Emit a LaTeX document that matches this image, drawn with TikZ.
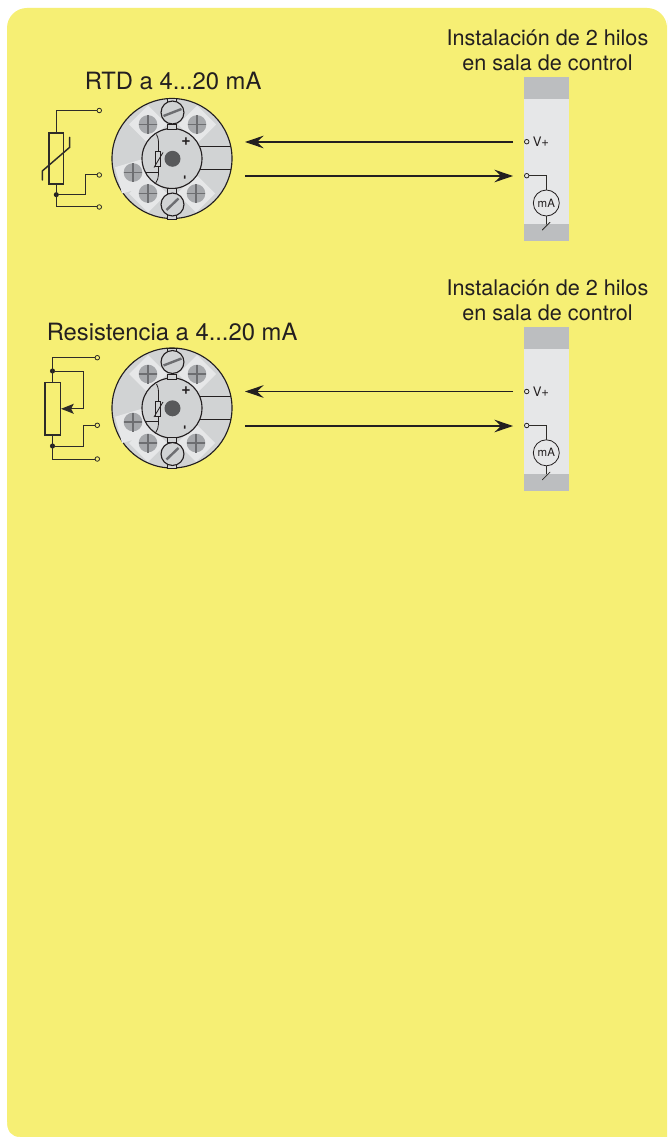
\documentclass[tikz,border=0pt]{standalone}
\usepackage{fontspec}
\setmainfont{TeX Gyre Heros}
\usetikzlibrary{arrows.meta,calc}
\definecolor{bgy}{HTML}{F6EF74}
\definecolor{ink}{HTML}{231F20}
\definecolor{wire}{HTML}{2E2C28}
\definecolor{body}{HTML}{D1D3D4}
\definecolor{pale}{HTML}{E6E7E8}
\definecolor{band}{HTML}{BCBEC0}
\definecolor{screwc}{HTML}{A7A9AC}
\definecolor{crossc}{HTML}{6D6E71}
\definecolor{hub}{HTML}{58595B}
\tikzset{
  x=0.75pt,y=-0.75pt,
  wireline/.style={draw=wire,line width=0.75pt,line cap=round,line join=miter},
  termin/.style={circle,draw=wire,fill=bgy,line width=0.6pt,inner sep=0pt,minimum size=3.4pt},
  termpanel/.style={termin,fill=pale},
  junction/.style={circle,fill=ink,inner sep=0pt,minimum size=3.8pt},
  titletext/.style={font=\fontsize{17.85pt}{20pt}\selectfont,text=ink,inner sep=0pt,anchor=base west},
  insttext/.style={font=\fontsize{16.2pt}{18.8pt}\selectfont,text=ink,inner sep=0pt,align=center},
  flow/.style={draw=ink,line width=0.85pt,-{Stealth[length=14pt,width=9.5pt,inset=5pt]}},
  tpad/.style={fill=pale,draw=none},
  tdiamond/.pic={
    \fill[tpad] (0,-19) -- (19,0) -- (0,19) -- (-19,0) -- cycle;
  },
  tscrew/.pic={
    \fill[screwc] (0,0) circle (7pt);
    \fill[crossc] (-9,-0.9) rectangle (9,0.9);
    \fill[crossc] (-1.2,-9.5) rectangle (1.2,9.5);
  },
  transmitter/.pic={
    \filldraw[fill=body,draw=ink,line width=0.85pt] (0,0) circle (45pt);
    \pic at (-24,-34) {tdiamond};
    \pic at (25,-34) {tdiamond};
    \pic at (-24,35) {tdiamond};
    \pic at (24,35) {tdiamond};
    \fill[tpad] (-57,8.8) -- (-30.3,0.8) -- (-23,27.5) -- (-50,35) -- cycle;
    \pic at (-24,-34) {tscrew};
    \pic at (25,-34) {tscrew};
    \pic at (-24,35) {tscrew};
    \pic at (24,35) {tscrew};
    \pic at (-39,14) {tscrew};
    \filldraw[fill=body,draw=ink,line width=0.85pt] (0,0) circle (22.5pt);
    \draw[draw=ink,line width=0.75pt] (28,-11.5) -- (59,-11.5) (28,11) -- (59,11);
    \fill[hub] (0.5,0.3) circle (6pt);
    \draw[draw=ink,line width=0.6pt] (-15.5,-24) .. controls (-13.5,-20) and (-13.5,-18) .. (-13.5,-14)
       -- (-13.5,16) .. controls (-13.5,19) and (-14.5,22) .. (-16.5,25);
    \draw[draw=ink,line width=0.6pt] (-27,13.5) -- (-13.5,13.5);
    \filldraw[fill=body,draw=ink,line width=0.6pt] (-17,-7) rectangle (-12,8);
    \draw[draw=ink,line width=0.6pt] (-18,9) -- (-9,-6);
    \node[inner sep=0pt,font=\fontsize{12pt}{12pt}\selectfont\bfseries,text=ink] at (14,-17) {+};
    \node[inner sep=0pt,rotate=90,font=\fontsize{9pt}{9pt}\selectfont\bfseries,text=ink] at (14,19.5) {-};
    \filldraw[fill=body,draw=ink,line width=0.6pt] (-4.5,-60) rectangle (4.5,-55);
    \filldraw[fill=body,draw=ink,line width=0.6pt] (-4.5,-34) rectangle (4.5,-29);
    \filldraw[fill=body,draw=ink,line width=0.6pt] (-4.5,29.5) rectangle (4.5,34.5);
    \filldraw[fill=body,draw=ink,line width=0.6pt] (-4.5,56) rectangle (4.5,60.5);
    \filldraw[fill=body,draw=ink,line width=0.85pt] (0.5,-46) circle (8.6pt);
    \draw[crossc,line width=1.8pt] (-8.5,-42.5) -- (9.5,-49.5);
    \filldraw[fill=body,draw=ink,line width=0.85pt] (0.5,46) circle (8.6pt);
    \draw[crossc,line width=1.8pt] (-5.5,51.5) -- (6.5,40);
  },
  panelunit/.pic={
    \fill[pale] (0,0) rectangle (45,164);
    \fill[band] (0,0) rectangle (45,22.5);
    \fill[band] (0,147.5) rectangle (45,164);
    \node[termpanel] (-t1) at (2.7,65) {};
    \node[termpanel] (-t2) at (2.7,99) {};
    \node[inner sep=0pt,anchor=west,font=\fontsize{9.8pt}{10pt}\selectfont,text=ink] (-vp) at (8.5,65.5) {V+};
    \node[circle,draw=ink,fill=pale,line width=0.6pt,inner sep=0pt,minimum size=19.5pt,font=\fontsize{8.6pt}{9pt}\selectfont,text=ink] (-ma) at (22.3,126.3) {mA};
    \coordinate (-gnd) at (22.3,147.5);
    \draw[wireline,line width=0.6pt] (-t2) -| (-ma);
    \draw[wireline,line width=0.6pt] (-ma) -- (-gnd);
    \draw[wireline,line width=0.6pt] (18.3,153.3) -- (26,145.6);
  }
}
\begin{document}
\begin{tikzpicture}
\useasboundingbox (0,0) rectangle (667,1137);
\fill[white] (0,0) rectangle (667,1137);
\fill[bgy,rounded corners=15pt] (7,1137) -- (7,8) -- (667,8) -- (667,40) [sharp corners] -- (667,1137) [rounded corners=0pt] -- cycle;
\fill[bgy] (667,1137) -- (667,30) -- (640,30) -- (640,1137) -- cycle;
\fill[white] (0,1122) -- (7,1122) .. controls (7,1131) and (11,1137) .. (20,1137) -- (0,1137) -- cycle;

% --- first row
\node[titletext] (t1) at (84.5,90) {RTD a 4...20 mA};
\node[insttext] (i1) at (547.5,50) {Instalación de 2 hilos\\en sala de control};
\pic (tr1) at (172,158.5) {transmitter};
\coordinate (tr1in) at (245,142);
\coordinate (tr1out) at (245,176);
\pic (pa) at (524,76.7) {panelunit};
\coordinate (pa1) at (513,142);
\coordinate (pa2) at (513,176);
\draw[flow] (pa1) -- (tr1in);
\draw[flow] (tr1out) -- (pa2);
% RTD sensor
\node[draw=wire,line width=1.1pt,minimum width=11pt,minimum height=38.2pt,inner sep=0pt] (rtd) at (56.3,158.5) {};
\node[termin] (a1) at (99.3,110.5) {};
\node[termin] (a2) at (99.3,175) {};
\node[termin] (a3) at (99.3,207) {};
\node[junction] (aj) at (56.3,194.7) {};
\draw[wireline] (rtd.north) |- (a1);
\draw[wireline] (rtd.south) |- (a3);
\draw[wireline] (aj) -- (85.3,194.7) |- (a2);
\draw[wireline,line width=1.1pt] (42.3,180) -- (42.3,171) -- (69.7,147.3) -- (69.7,137.3);

% --- second row
\node[titletext] (t2) at (46.5,340) {Resistencia a 4...20 mA};
\node[insttext] (i2) at (547.5,300) {Instalación de 2 hilos\\en sala de control};
\pic (tr2) at (172,408) {transmitter};
\coordinate (tr2in) at (245,391.5);
\coordinate (tr2out) at (245,426);
\pic (pb) at (524,326.5) {panelunit};
\coordinate (pb1) at (513,391.5);
\coordinate (pb2) at (513,426);
\draw[flow] (pb1) -- (tr2in);
\draw[flow] (tr2out) -- (pb2);
% Resistor with wiper
\node[draw=wire,line width=1.2pt,minimum width=11.7pt,minimum height=39.7pt,inner sep=0pt] (res) at (52.5,408.8) {};
\node[termin] (b1) at (97.3,357.7) {};
\node[termin] (b2) at (97.3,425.3) {};
\node[termin] (b3) at (97.3,459) {};
\node[junction] (bj1) at (52.5,371) {};
\node[junction] (bj2) at (52.5,446) {};
\draw[wireline] (res.north) |- (b1);
\draw[wireline] (res.south) |- (b3);
\draw[wireline] (bj2) -- (83,446) |- (b2);
\draw[wireline,-{Stealth[length=9.5pt,width=7.5pt,inset=2pt]}] (bj1) -- (83,371) |- (res.east);
\end{tikzpicture}
\end{document}
